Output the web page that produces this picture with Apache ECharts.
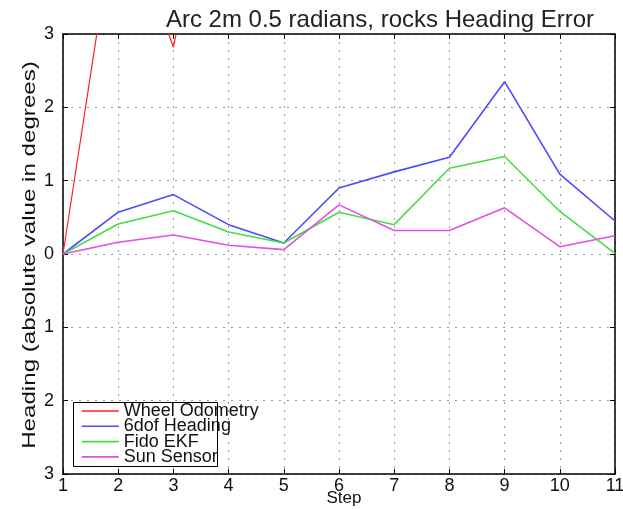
<!DOCTYPE html>
<html>
<head>
<meta charset="utf-8">
<title>Arc 2m 0.5 radians, rocks Heading Error</title>
<script src="https://cdn.jsdelivr.net/npm/echarts@6/dist/echarts.min.js"></script>
<style>
  html, body { margin: 0; padding: 0; background: #fff; }
  #chart { width: 623px; height: 509px; }
</style>
</head>
<body>
<div id="chart"></div>
<script>
// Step numbers along the run
const steps = [1, 2, 3, 4, 5, 6, 7, 8, 9, 10, 11];

// Heading error per step (degrees). Wheel odometry leaves the plotted
// range after step 4, so later steps are left out (null).
const wheelOdometry = [0, 4.9, 2.82, 6.5, null, null, null, null, null, null, null];
const sixDofHeading = [0, 0.57, 0.81, 0.40, 0.15, 0.90, 1.12, 1.32, 2.35, 1.09, 0.45];
const fidoEkf       = [0, 0.41, 0.59, 0.30, 0.15, 0.57, 0.40, 1.17, 1.33, 0.58, 0.01];
const sunSensor     = [0, 0.16, 0.26, 0.12, 0.06, 0.67, 0.32, 0.32, 0.63, 0.10, 0.25];

const seriesNames  = ['Wheel Odometry', '6dof Heading', 'Fido EKF', 'Sun Sensor'];
const seriesColors = ['#ff2020', '#4a4aff', '#44dd44', '#e64ce6'];
const seriesData   = [wheelOdometry, sixDofHeading, fidoEkf, sunSensor];

const FONT = '"Liberation Sans", Arial, Helvetica, sans-serif';

const chart = echarts.init(document.getElementById('chart'), null, { renderer: 'canvas' });

const gridLine = { show: true, lineStyle: { color: '#9a9a9a', type: [2, 6], width: 1 } };
const frame = { show: true, onZero: false, lineStyle: { color: '#000', width: 1.5 } };
const tick = { show: true, inside: true, length: 5, lineStyle: { color: '#000', width: 1 } };

chart.setOption({
  animation: false,
  backgroundColor: '#ffffff',
  title: {
    text: 'Arc 2m 0.5 radians, rocks Heading Error',
    left: 375, top: 3, textAlign: 'center',
    textStyle: { fontFamily: FONT, fontSize: 24, fontWeight: 'normal', color: '#222' }
  },
  grid: { left: 63, right: 8, top: 34, bottom: 35, containLabel: false, outerBoundsMode: 'none' },
  legend: {
    orient: 'vertical',
    left: 81, top: 402,
    itemWidth: 37, itemHeight: 14, itemGap: -2.7,
    data: seriesNames,
    itemStyle: { opacity: 0 },
    lineStyle: { width: 1.6 },
    textStyle: { fontFamily: FONT, fontSize: 18, color: '#111' },
    padding: 0,
    z: 6
  },
  graphic: [{
    type: 'rect', z: 5,
    shape: { x: 73.5, y: 402.5, width: 144, height: 64 },
    style: { fill: '#fff', stroke: '#000', lineWidth: 1 }
  }, {
    // y-axis caption, stretched along its length
    type: 'text', z: 5,
    x: 30, y: 255,
    rotation: Math.PI / 2,
    scaleX: 1.27,
    style: {
      text: 'Heading (absolute value in degrees)',
      fontFamily: FONT, fontSize: 19, fill: '#111',
      align: 'center', verticalAlign: 'middle'
    }
  }],
  xAxis: [{
    type: 'value', min: 1, max: 11, interval: 1,
    name: 'Step', nameLocation: 'middle', nameGap: 16, nameMoveOverlap: false,
    nameTextStyle: { fontFamily: FONT, fontSize: 17, color: '#111', padding: [0, 0, 0, 10] },
    axisLine: frame, axisTick: tick, splitLine: gridLine,
    axisLabel: { fontFamily: FONT, fontSize: 18, color: '#111', margin: 3 }
  }, {
    type: 'value', min: 1, max: 11, interval: 1, position: 'top',
    axisLine: frame, axisTick: tick, splitLine: { show: false },
    axisLabel: { show: false }
  }],
  yAxis: [{
    type: 'value', min: -3, max: 3, interval: 1,
    axisLine: frame, axisTick: tick, splitLine: gridLine,
    axisLabel: {
      fontFamily: FONT, fontSize: 18, color: '#111', margin: 9,
      formatter: v => String(Math.abs(v))
    }
  }, {
    type: 'value', min: -3, max: 3, interval: 1, position: 'right',
    axisLine: frame, axisTick: tick, splitLine: { show: false },
    axisLabel: { show: false }
  }],
  series: seriesData.map((vals, i) => ({
    name: seriesNames[i],
    type: 'line',
    data: steps.map((s, k) => [s, vals[k]]),
    symbol: 'none',
    clip: true,
    color: seriesColors[i],
    lineStyle: { width: i === 0 ? 1.2 : 1.6, color: seriesColors[i] },
    z: 3
  }))
});
</script>
</body>
</html>
